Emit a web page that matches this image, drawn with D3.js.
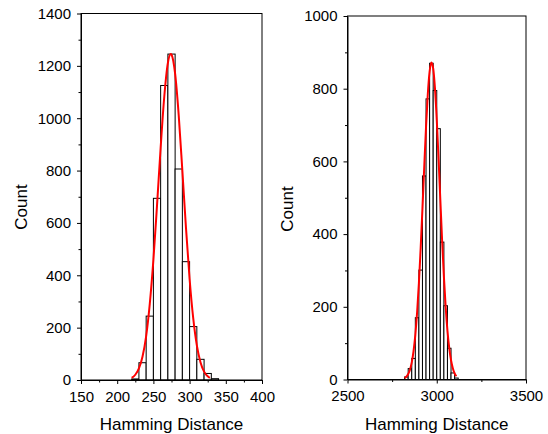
<!doctype html>
<html>
<meta http-equiv="Content-type" content="text/html; charset=utf-8" />
<head>
  <title>Hamming Distance</title>
  <script type="text/javascript" src="https://cdn.jsdelivr.net/npm/d3@7"></script>
  <style>
  body{margin:0;background:#fff;}
  text{font-family:"Liberation Sans", Arial, sans-serif;fill:#000;}
  .bar{fill:#fff;stroke:#000;stroke-width:1;}
  .fit{fill:none;stroke:#ff0000;stroke-width:2;}
  </style>
</head>
<body>
<script>
    // left histogram (bin width 10)
    var leftBins   = [220,230,240,250,260,270,280,290,300,310,320,330];
    var leftCounts = [4,66,244,694,1125,1245,806,452,204,79,25,5];
    var leftFitX = [220,225,230,235,240,245,250,255,260,265,270,274,275,280,285,290,295,300,305,310,315,320,325,328];
    var leftFitY = [8,20,44,90,168,291,459,667,887,1082,1211,1245,1243,1170,1010,799,581,386,236,132,68,32,14,8];
    var leftXTicks = [150,200,250,300,350,400];
    var leftYTicks = [0,200,400,600,800,1000,1200,1400];

    // right histogram (bin width 20)
    var rightBins   = [2820,2840,2860,2880,2900,2920,2940,2960,2980,3000,3020,3040,3060,3080,3100];
    var rightCounts = [7,30,58,170,301,560,772,870,795,690,378,203,86,18,4];
    var rightFitX = [2820,2830,2840,2850,2860,2870,2880,2890,2900,2910,2920,2930,2940,2950,2960,2970,2980,2990,3000,3010,3020,3030,3040,3050,3060,3070,3080,3090,3100,3110];
    var rightFitY = [4,8,15,27,47,78,123,185,265,362,471,586,695,786,847,872,856,801,715,609,495,383,283,199,134,86,53,31,17,9];
    var rightXTicks = [2500,3000,3500];
    var rightYTicks = [0,200,400,600,800,1000];

    var svg = d3.select('body').append('svg')
        .attr('width', 548)
        .attr('height', 434);

    function drawPanel(p){
        var x = d3.scaleLinear().domain(p.xDomain).range([p.left, p.right]);
        var y = d3.scaleLinear().domain(p.yDomain).range([p.bottom, p.top]);
        var g = svg.append('g');

        // bars
        g.selectAll('rect').data(p.bins).enter().append('rect')
            .attr('class', 'bar')
            .attr('x', function(d){return x(d);})
            .attr('width', function(d){return x(d + p.binWidth) - x(d);})
            .attr('y', function(d, i){return y(p.counts[i]);})
            .attr('height', function(d, i){return y(0) - y(p.counts[i]);});

        // fitted curve
        var line = d3.line()
            .x(function(d){return x(d[0]);})
            .y(function(d){return y(d[1]);})
            .curve(d3.curveMonotoneX);
        g.append('path')
            .attr('class', 'fit')
            .attr('d', line(p.fitX.map(function(v, i){return [v, p.fitY[i]];})));

        // minor ticks
        var xMinor = [], yMinor = [];
        for (var i = 0; i < p.xTicks.length - 1; i++) xMinor.push((p.xTicks[i] + p.xTicks[i+1]) / 2);
        for (var j = 0; j < p.yTicks.length - 1; j++) yMinor.push((p.yTicks[j] + p.yTicks[j+1]) / 2);

        g.append('g')
            .attr('transform', 'translate(0,' + p.bottom + ')')
            .call(d3.axisBottom(x).tickValues(p.xTicks).tickFormat(d3.format('d'))
                .tickSize(4).tickPadding(7).tickSizeOuter(0));
        g.append('g')
            .attr('transform', 'translate(0,' + p.bottom + ')')
            .call(d3.axisBottom(x).tickValues(xMinor).tickSize(2.5).tickFormat('').tickSizeOuter(0))
            .select('.domain').remove();
        g.append('g')
            .attr('transform', 'translate(' + p.left + ',0)')
            .call(d3.axisLeft(y).tickValues(p.yTicks).tickFormat(d3.format('d'))
                .tickSize(4).tickPadding(6).tickSizeOuter(0));
        g.append('g')
            .attr('transform', 'translate(' + p.left + ',0)')
            .call(d3.axisLeft(y).tickValues(yMinor).tickSize(2.5).tickFormat('').tickSizeOuter(0))
            .select('.domain').remove();

        g.selectAll('.tick text').attr('font-size', 15).attr('font-family', '"Liberation Sans", Arial, sans-serif');
        g.selectAll('.domain, .tick line').attr('stroke', '#000');

        // frame
        g.append('rect')
            .attr('x', p.left).attr('y', p.top)
            .attr('width', p.right - p.left).attr('height', p.bottom - p.top)
            .attr('fill', 'none').attr('stroke', '#000').attr('stroke-width', 1);

        g.append('text')
            .attr('x', (p.left + p.right) / 2).attr('y', 430)
            .attr('text-anchor', 'middle').attr('font-size', 17)
            .text('Hamming Distance');
        g.append('text')
            .attr('transform', 'translate(' + p.titleX + ',' + p.titleY + ') rotate(-90)')
            .attr('text-anchor', 'middle').attr('font-size', 17)
            .text('Count');
    }

    drawPanel({
        bins: leftBins, counts: leftCounts, binWidth: 10,
        fitX: leftFitX, fitY: leftFitY,
        xTicks: leftXTicks, yTicks: leftYTicks,
        xDomain: [150, 400], yDomain: [0, 1400],
        left: 81, right: 262, top: 13.5, bottom: 380,
        titleX: 27, titleY: 207
    });
    drawPanel({
        bins: rightBins, counts: rightCounts, binWidth: 20,
        fitX: rightFitX, fitY: rightFitY,
        xTicks: rightXTicks, yTicks: rightYTicks,
        xDomain: [2500, 3500], yDomain: [0, 1000],
        left: 347.5, right: 526, top: 16, bottom: 379.5,
        titleX: 293, titleY: 209
    });
</script>
</body>
</html>
